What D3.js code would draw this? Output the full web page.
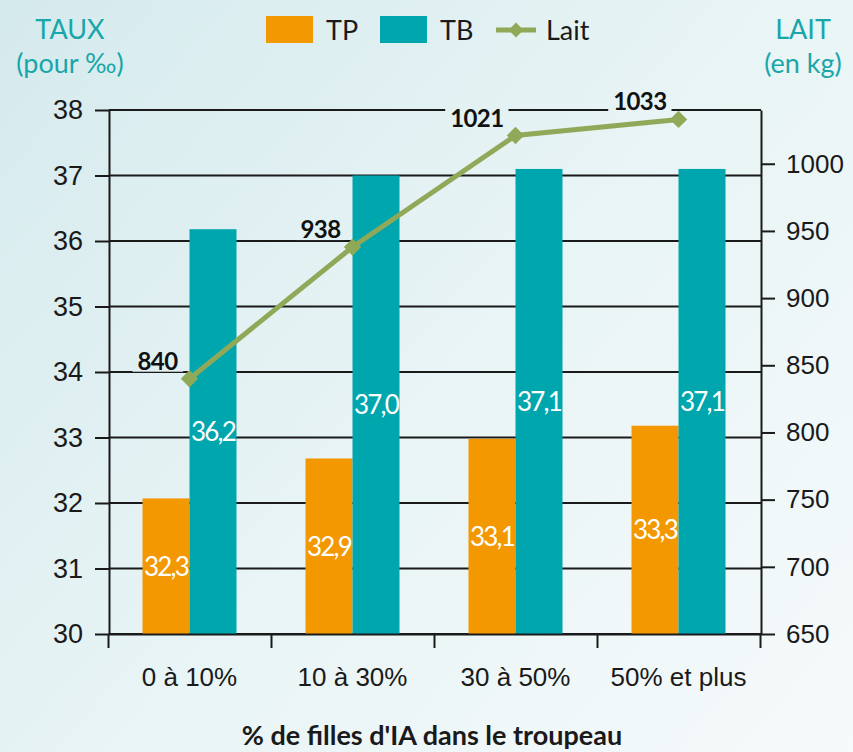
<!DOCTYPE html>
<html lang="fr">
<head>
    <meta charset="UTF-8">
    <title>TP, TB et lait selon la part de filles d'IA</title>
    <script src="https://d3js.org/d3.v7.min.js"></script>
    <style>
        html, body { margin: 0; padding: 0; }
        svg { display: block; font-family: Lato, "Noto Sans", sans-serif; }
    </style>
</head>
<body>
<svg id="chart"></svg>
<script>

    const categories = ["0 à 10%", "10 à 30%", "30 à 50%", "50% et plus"];
    const seriesNames = ["TP", "TB"];

    // TP bars are drawn a little lower than their printed labels in the original
    const tpBars = [32.07, 32.68, 32.98, 33.18];
    const tpLabels = ["32,3", "32,9", "33,1", "33,3"];
    const tbBars = [36.18, 37.0, 37.1, 37.1];
    const tbLabels = ["36,2", "37,0", "37,1", "37,1"];
    const lait = [840, 938, 1021, 1033];

    const leftTicks = [30, 31, 32, 33, 34, 35, 36, 37, 38];
    const rightTicks = [650, 700, 750, 800, 850, 900, 950, 1000];

    const W = 853, H = 752;
    const plot = {left: 109, right: 761, top: 110, bottom: 634};

    const orange = "#f39800", teal = "#00a6ad", green = "#8fa959", ink = "#1a1a1a", titleTeal = "#18a6aa";

    const svg = d3.select("#chart").attr("width", W).attr("height", H);

    const defs = svg.append("defs");
    const grad = defs.append("linearGradient").attr("id", "bg")
        .attr("gradientUnits", "userSpaceOnUse")
        .attr("x1", 0).attr("y1", 0).attr("x2", W).attr("y2", H);
    grad.append("stop").attr("offset", 0).attr("stop-color", "#d5eaed");
    grad.append("stop").attr("offset", 0.5).attr("stop-color", "#e8f4f5");
    grad.append("stop").attr("offset", 1).attr("stop-color", "#f6fafb");

    svg.append("rect").attr("width", W).attr("height", H).attr("fill", "url(#bg)");

    // scales
    const yL = d3.scaleLinear().domain([30, 38]).range([plot.bottom, plot.top]);
    const yR = d3.scaleLinear().domain([650, 1040]).range([plot.bottom, plot.top]);
    const x = d3.scaleBand().domain(categories).range([108, 760]).padding(0);
    const x1 = d3.scaleBand().domain(seriesNames).range([0, x.bandwidth()])
        .paddingInner(0).paddingOuter(0.734);

    // gridlines
    svg.append("g").selectAll("line").data(leftTicks).join("line")
        .attr("x1", plot.left).attr("x2", plot.right)
        .attr("y1", d => yL(d)).attr("y2", d => yL(d))
        .attr("stroke", ink).attr("stroke-width", 2);

    // bars
    const rows = categories.map((c, i) => ({
        cat: c,
        vals: [
            {key: "TP", v: tpBars[i], label: tpLabels[i], color: orange},
            {key: "TB", v: tbBars[i], label: tbLabels[i], color: teal}
        ]
    }));

    const groups = svg.append("g").selectAll("g").data(rows).join("g")
        .attr("transform", d => `translate(${x(d.cat)},0)`);

    groups.selectAll("rect").data(d => d.vals).join("rect")
        .attr("x", d => x1(d.key))
        .attr("width", x1.bandwidth())
        .attr("y", d => yL(d.v))
        .attr("height", d => yL(30) - yL(d.v) + 1)
        .attr("fill", d => d.color);

    groups.selectAll("text").data(d => d.vals).join("text")
        .attr("x", d => x1(d.key) + x1.bandwidth() / 2)
        .attr("y", d => (yL(d.v) + yL(30)) / 2)
        .attr("dy", "0.36em")
        .attr("text-anchor", "middle")
        .attr("fill", "#fff")
        .attr("font-size", 26)
        .attr("letter-spacing", -1.8)
        .text(d => d.label);

    // axes
    const axL = svg.append("g").attr("transform", `translate(${plot.left},0)`)
        .call(d3.axisLeft(yL).tickValues(leftTicks).tickSize(14).tickSizeOuter(0).tickPadding(12));
    const axR = svg.append("g").attr("transform", `translate(${plot.right},0)`)
        .call(d3.axisRight(yR).tickValues(rightTicks).tickFormat(d3.format("d"))
            .tickSize(14).tickSizeOuter(0).tickPadding(11));
    const xEdge = d3.scaleLinear().domain([0, categories.length]).range(x.range());
    const axB = svg.append("g").attr("transform", `translate(0,${plot.bottom})`)
        .call(d3.axisBottom(xEdge).ticks(categories.length).tickFormat("").tickSize(14).tickSizeOuter(0));
    const axC = svg.append("g").attr("transform", `translate(0,${plot.bottom})`)
        .call(d3.axisBottom(x).tickSize(0).tickPadding(34));

    [axL, axR, axB, axC].forEach(a => {
        a.selectAll("path, line").attr("stroke", ink).attr("stroke-width", 2);
        a.selectAll("text").attr("fill", ink).attr("font-size", 26).attr("font-family", null);
    });
    axL.selectAll("text").attr("font-size", 27);
    axC.select(".domain").remove();

    // milk line
    const pts = categories.map((c, i) => ({x: x(c) + x.bandwidth() / 2, y: yR(lait[i]), v: lait[i]}));

    svg.append("path").datum(pts)
        .attr("d", d3.line().x(d => d.x).y(d => d.y))
        .attr("fill", "none").attr("stroke", green).attr("stroke-width", 5);

    const diamond = d3.symbol().type(d3.symbolSquare).size(150);
    svg.append("g").selectAll("path").data(pts).join("path")
        .attr("d", diamond)
        .attr("transform", d => `translate(${d.x},${d.y}) rotate(45)`)
        .attr("fill", green);

    const valLabels = svg.append("g").selectAll("g").data(pts).join("g");
    const valText = valLabels.append("text")
        .attr("x", d => d.x - 12)
        .attr("y", d => d.y - 9)
        .attr("text-anchor", "end")
        .attr("font-size", 24).attr("font-weight", 700)
        .attr("letter-spacing", -0.6)
        .attr("fill", "#111")
        .text(d => d.v);
    // background patch so the gridlines stop around the numbers
    valText.each(function() {
        const b = this.getBBox();
        d3.select(this.parentNode).insert("rect", "text")
            .attr("x", b.x - 5).attr("y", b.y + 3)
            .attr("width", b.width + 10).attr("height", b.height - 6)
            .attr("fill", "url(#bg)");
    });

    // axis titles
    const titles = [
        {x: 70, lines: ["TAUX", "(pour ‰)"]},
        {x: 803, lines: ["LAIT", "(en kg)"]}
    ];
    titles.forEach(t => {
        svg.append("g").selectAll("text").data(t.lines).join("text")
            .attr("x", t.x).attr("y", (d, i) => 39 + i * 34)
            .attr("text-anchor", "middle")
            .attr("font-size", 27).attr("fill", titleTeal)
            .text(d => d);
    });

    svg.append("text")
        .attr("x", 432).attr("y", 745)
        .attr("text-anchor", "middle")
        .attr("font-size", 27).attr("font-weight", 700).attr("fill", ink)
        .text("% de filles d'IA dans le troupeau");

    // legend
    const legend = svg.append("g").attr("transform", "translate(266,30)");
    const legendItems = [
        {name: "TP", kind: "bar", color: orange, x: 0},
        {name: "TB", kind: "bar", color: teal, x: 114},
        {name: "Lait", kind: "line", color: green, x: 230}
    ];
    const li = legend.selectAll("g").data(legendItems).join("g")
        .attr("transform", d => `translate(${d.x},0)`);
    li.filter(d => d.kind === "bar").append("rect")
        .attr("x", 0).attr("y", -14).attr("width", 47).attr("height", 27)
        .attr("fill", d => d.color);
    li.filter(d => d.kind === "line").append("line")
        .attr("x1", 0).attr("x2", 40).attr("y1", 0).attr("y2", 0)
        .attr("stroke", d => d.color).attr("stroke-width", 5);
    li.filter(d => d.kind === "line").append("path")
        .attr("d", d3.symbol().type(d3.symbolSquare).size(110))
        .attr("transform", "translate(20,0) rotate(45)")
        .attr("fill", d => d.color);
    li.append("text")
        .attr("x", d => d.kind === "bar" ? 60 : 50)
        .attr("dy", "0.36em")
        .attr("font-size", 27).attr("fill", ink)
        .text(d => d.name);

</script>
</body>
</html>
